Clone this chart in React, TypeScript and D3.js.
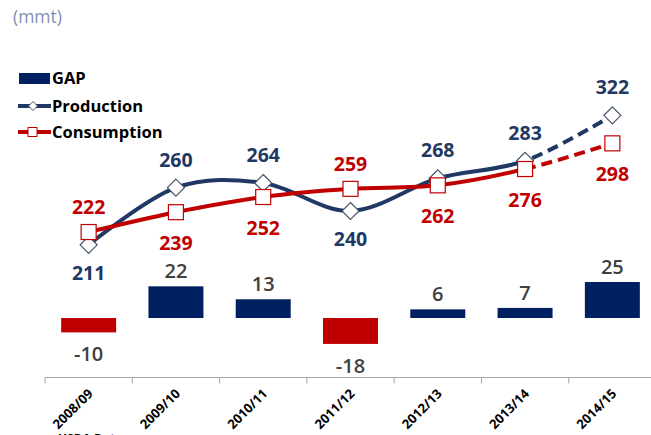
import React from "react";
import * as d3 from "d3";

const categories = ["2008/09", "2009/10", "2010/11", "2011/12", "2012/13", "2013/14", "2014/15"];
const production = [211, 260, 264, 240, 268, 283, 322];
const consumption = [222, 239, 252, 259, 262, 276, 298];
const gap = [-10, 22, 13, -18, 6, 7, 25];
const productionLabelPos = ["below", "above", "above", "below", "above", "above", "above"];
const consumptionLabelPos = ["above", "below", "below", "above", "below", "below", "below"];
const forecastFrom = "2013/14";
const unitLabel = "(mmt)";
const sourceLabel = "USDA Data";

const NAVY = "#1F3864";
const BAR_NAVY = "#002060";
const RED = "#C00000";
const FONT = "'Open Sans', 'DejaVu Sans', sans-serif";

export default function App() {
  const W = 651, H = 435;
  const x = d3.scaleBand<string>().domain(categories).range([45, 656]);
  const cx = (c: string) => (x(c) as number) + x.bandwidth() / 2;
  const yLine = d3.scaleLinear().domain([200, 330]).range([257.7, 106]);
  const yBar = d3.scaleLinear().domain([0, 25]).range([318, 282]);
  const barW = x.bandwidth() * 0.63;
  const axisY = 377.5;

  const lineGen = d3
    .line<number>()
    .x((_, i) => cx(categories[i]))
    .y((d) => yLine(d))
    .curve(d3.curveCardinal.tension(0));

  const splitX = cx(forecastFrom);

  const diamond = (px: number, py: number, r: number) =>
    `M${px},${py - r}L${px + r},${py}L${px},${py + r}L${px - r},${py}Z`;

  return (
    <svg
      width={W}
      height={H}
      style={{ position: "absolute", left: 0, top: 0, background: "#fff" }}
      fontFamily={FONT}
    >
      <defs>
        <clipPath id="solidClip">
          <rect x={0} y={0} width={splitX} height={H} />
        </clipPath>
        <clipPath id="dashClip">
          <rect x={splitX} y={0} width={W - splitX} height={H} />
        </clipPath>
      </defs>

      <text x={13} y={23} fontSize={17.5} fill="#7f8fb5">
        {unitLabel}
      </text>

      {/* Legend */}
      <g>
        <rect x={19} y={73} width={31} height={11} fill={BAR_NAVY} />
        <text x={52} y={84} fontSize={16.5} fontWeight={700} fill="#000">GAP</text>
        <line x1={18} x2={51} y1={106} y2={106} stroke={NAVY} strokeWidth={4} />
        <path d={diamond(33, 106, 4.5)} fill="#fff" stroke="#44546A" strokeWidth={1} />
        <text x={52} y={111.5} fontSize={16.5} fontWeight={700} fill="#000">Production</text>
        <line x1={18} x2={51} y1={132} y2={132} stroke={RED} strokeWidth={4} />
        <rect x={28} y={127.5} width={9} height={9} fill="#fff" stroke={RED} strokeWidth={1} />
        <text x={52} y={137.5} fontSize={16.5} fontWeight={700} fill="#000">Consumption</text>
      </g>

      {/* Bars */}
      {categories.map((c, i) => {
        const v = gap[i];
        const y0 = yBar(0);
        const y1 = yBar(v);
        return (
          <rect
            key={"b" + c}
            x={cx(c) - barW / 2}
            y={Math.min(y0, y1)}
            width={barW}
            height={Math.abs(y1 - y0)}
            fill={v < 0 ? RED : BAR_NAVY}
          />
        );
      })}
      {categories.map((c, i) => {
        const v = gap[i];
        const y = v < 0 ? yBar(v) + 29 : yBar(v) - 8;
        return (
          <text key={"bl" + c} x={cx(c)} y={y} textAnchor="middle" fontSize={20} fontWeight={600} fill="#404040">
            {v}
          </text>
        );
      })}

      {/* Axis */}
      <line x1={45} x2={W} y1={axisY} y2={axisY} stroke="#a6a6a6" strokeWidth={1} />
      {categories.map((c) => (
        <line key={"t" + c} x1={x(c) as number} x2={x(c) as number} y1={axisY} y2={axisY + 6} stroke="#a6a6a6" strokeWidth={1} />
      ))}
      {categories.map((c) => (
        <text
          key={"xl" + c}
          transform={`translate(${cx(c) + 5},${axisY + 17}) rotate(-45)`}
          textAnchor="end"
          fontSize={13}
          fontWeight={700}
          fill="#000"
        >
          {c}
        </text>
      ))}
      <text x={58} y={443} fontSize={12} fontWeight={700} fill="#000">{sourceLabel}</text>

      {/* Production line */}
      <path d={lineGen(production) || ""} fill="none" stroke={NAVY} strokeWidth={4} clipPath="url(#solidClip)" />
      <path d={lineGen(production) || ""} fill="none" stroke={NAVY} strokeWidth={4} strokeDasharray="11,6" clipPath="url(#dashClip)" />
      {/* Consumption line */}
      <path d={lineGen(consumption) || ""} fill="none" stroke={RED} strokeWidth={4} clipPath="url(#solidClip)" />
      <path d={lineGen(consumption) || ""} fill="none" stroke={RED} strokeWidth={4} strokeDasharray="11,6" clipPath="url(#dashClip)" />

      {/* Markers */}
      {categories.map((c, i) => (
        <path key={"pm" + c} d={diamond(cx(c), yLine(production[i]), 8.5)} fill="#fff" stroke="#44546A" strokeWidth={1.2} />
      ))}
      {categories.map((c, i) => (
        <rect
          key={"cm" + c}
          x={cx(c) - 7.5}
          y={yLine(consumption[i]) - 7.5}
          width={15}
          height={15}
          fill="#fff"
          stroke={RED}
          strokeWidth={1.2}
        />
      ))}

      {/* Line labels */}
      {categories.map((c, i) => {
        const py = yLine(production[i]);
        const y = productionLabelPos[i] === "above" ? py - 21 : py + 35;
        return (
          <text key={"pl" + c} x={cx(c)} y={y} textAnchor="middle" fontSize={19.5} fontWeight={700} fill={NAVY}>
            {production[i]}
          </text>
        );
      })}
      {categories.map((c, i) => {
        const py = yLine(consumption[i]);
        const y = consumptionLabelPos[i] === "above" ? py - 18 : py + 38;
        return (
          <text key={"cl" + c} x={cx(c)} y={y} textAnchor="middle" fontSize={19.5} fontWeight={700} fill={RED}>
            {consumption[i]}
          </text>
        );
      })}
    </svg>
  );
}
